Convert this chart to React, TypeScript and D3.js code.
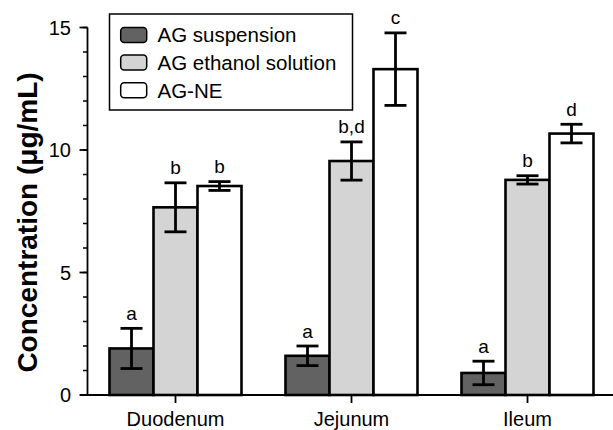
import React from "react";
import * as d3 from "d3";

const categories = ["Duodenum", "Jejunum", "Ileum"];
const series = ["AG suspension", "AG ethanol solution", "AG-NE"];
const means = [
  [1.9, 1.6, 0.9],
  [7.66, 9.55, 8.78],
  [8.53, 13.3, 10.67],
];
const errors = [
  [0.82, 0.4, 0.48],
  [1.0, 0.78, 0.17],
  [0.18, 1.48, 0.38],
];
const letters = [
  ["a", "a", "a"],
  ["b", "b,d", "b"],
  ["b", "c", "d"],
];
const yTicks = [0, 5, 10, 15];
const yMinorTicks = d3.range(0, 16, 1);
const colors = ["#626262", "#d4d4d4", "#ffffff"];

const W = 613;
const H = 430;
const FONT = "Liberation Sans, Arial, Helvetica, sans-serif";

export default function App() {
  const x = d3.scaleBand<string>().domain(categories).range([87.5, 615.5]).padding(0);
  const y = d3.scaleLinear().domain([0, 15]).range([395, 27.5]);
  const gw = x.bandwidth() * 0.75;
  const xs = d3.scaleBand<string>().domain(series).range([-gw / 2, gw / 2]).padding(0);
  const axisX = 87.5;
  const baseY = y(0);

  return (
    <div style={{ position: "absolute", left: 0, top: 0 }}>
      <svg width={W} height={H} style={{ display: "block", background: "#fff" }} fontFamily={FONT}>
        {/* bars */}
        {series.map((s, si) =>
          categories.map((c, ci) => {
            const bx = (x(c) as number) + x.bandwidth() / 2 + (xs(s) as number);
            const v = means[si][ci];
            return (
              <rect
                key={s + c}
                x={bx}
                y={y(v)}
                width={xs.bandwidth()}
                height={baseY - y(v)}
                fill={colors[si]}
                stroke="#000"
                strokeWidth={2.6}
              />
            );
          })
        )}
        {/* error bars and letters */}
        {series.map((s, si) =>
          categories.map((c, ci) => {
            const cx = (x(c) as number) + x.bandwidth() / 2 + (xs(s) as number) + xs.bandwidth() / 2;
            const v = means[si][ci];
            const e = errors[si][ci];
            const top = y(v + e);
            const bot = y(v - e);
            return (
              <g key={"e" + s + c} stroke="#000" strokeWidth={2.8}>
                <line x1={cx} x2={cx} y1={top} y2={bot} />
                <line x1={cx - 11} x2={cx + 11} y1={top} y2={top} />
                <line x1={cx - 11} x2={cx + 11} y1={bot} y2={bot} />
                <text
                  x={cx}
                  y={top - 8.5}
                  textAnchor="middle"
                  fontSize={19}
                  stroke="none"
                  fill="#000"
                >
                  {letters[si][ci]}
                </text>
              </g>
            );
          })
        )}
        {/* y axis */}
        <line x1={axisX} x2={axisX} y1={y(15)} y2={baseY} stroke="#000" strokeWidth={1.8} />
        {yMinorTicks.map((t) => (
          <line key={"m" + t} x1={axisX - 4.5} x2={axisX} y1={y(t)} y2={y(t)} stroke="#000" strokeWidth={1.5} />
        ))}
        {yTicks.map((t) => (
          <g key={"t" + t}>
            <line x1={axisX - 8} x2={axisX} y1={y(t)} y2={y(t)} stroke="#000" strokeWidth={1.8} />
            <text x={71} y={y(t)} dy="0.36em" textAnchor="end" fontSize={20} fill="#000">
              {t}
            </text>
          </g>
        ))}
        {/* x axis */}
        <line x1={80} x2={W} y1={baseY} y2={baseY} stroke="#000" strokeWidth={1.8} />
        {categories.map((c) => {
          const cx = (x(c) as number) + x.bandwidth() / 2;
          return (
            <g key={"x" + c}>
              <line x1={cx} x2={cx} y1={baseY} y2={baseY + 8} stroke="#000" strokeWidth={1.8} />
              <text x={cx} y={426} textAnchor="middle" fontSize={20} fill="#000">
                {c}
              </text>
            </g>
          );
        })}
        {/* y title */}
        <text
          transform={`translate(37,222.5) rotate(-90)`}
          textAnchor="middle"
          fontSize={28}
          fontWeight="bold"
          fill="#000"
        >
          Concentration (μg/mL)
        </text>
        {/* legend */}
        <rect x={109.5} y={14} width={243} height={96} fill="#fff" stroke="#000" strokeWidth={1.5} />
        {series.map((s, si) => {
          const cy = 35 + si * 27.6;
          return (
            <g key={"l" + s}>
              <rect x={120.7} y={cy - 7.5} width={26} height={15} rx={3.5} fill={colors[si]} stroke="#000" strokeWidth={1.5} />
              <text x={157.5} y={cy} dy="0.36em" fontSize={20.5} fill="#000">
                {s}
              </text>
            </g>
          );
        })}
      </svg>
    </div>
  );
}
